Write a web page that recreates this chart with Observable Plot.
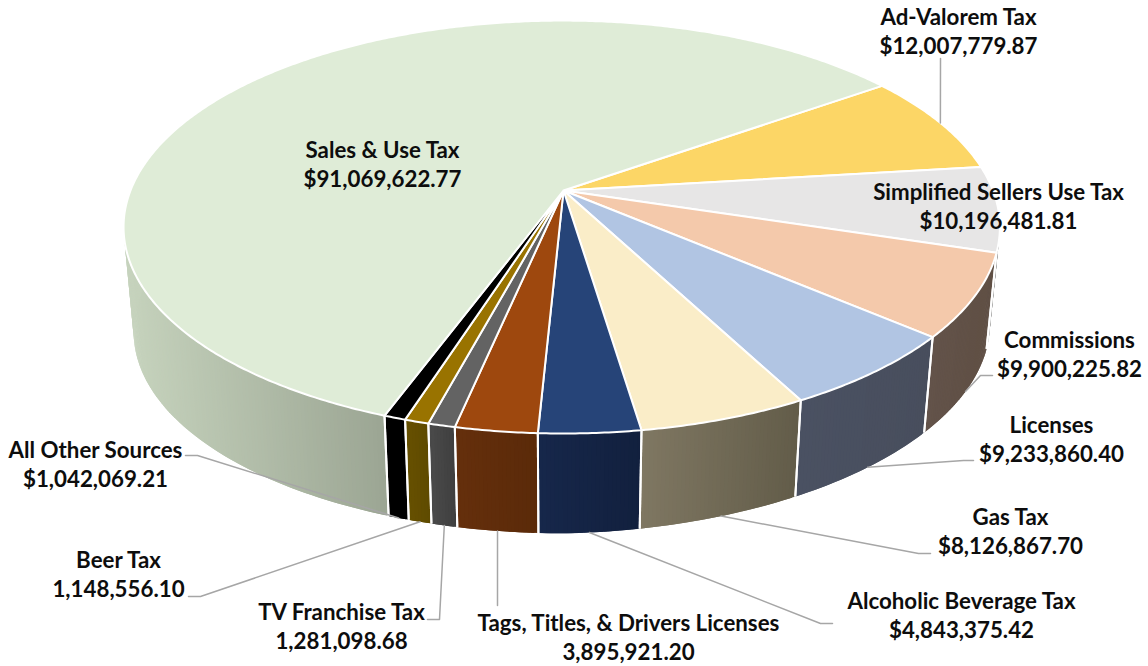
<!DOCTYPE html>
<html><head><meta charset="utf-8">
<style>html,body{margin:0;padding:0;background:#fff}svg{display:block}</style>
<script src="https://cdn.jsdelivr.net/npm/d3@7"></script>
<script src="https://cdn.jsdelivr.net/npm/@observablehq/plot@0.6"></script>
</head><body><div id="chart"></div>
<script>
// ---- data, clockwise from the back right
const categories = ["Ad-Valorem Tax","Simplified Sellers Use Tax","Commissions","Licenses","Gas Tax","Alcoholic Beverage Tax","Tags, Titles, & Drivers Licenses","TV Franchise Tax","Beer Tax","All Other Sources","Sales & Use Tax"];
const values = [12007779.87,10196481.81,9900225.82,9233860.40,8126867.70,4843375.42,3895921.20,1281098.68,1148556.10,1042069.21,91069622.77];
const hasDollar = [true,true,true,true,true,true,false,false,false,true,true];
// ---- colours
const topColors = ["#FCD666","#E7E6E6","#F4C9AB","#B1C5E3","#FAEDC8","#264478","#9E480E","#636363","#997300","#000000","#DFECD7"];
const wallLeftColors = ["#8C7A45","#8A8A88","#63534A","#4A5162","#7F7762","#16274A","#652F0C","#4A4A4A","#665000","#000000","#C6D3BD"];
const wallRightColors = ["#7A6A3C","#7A7A78","#5F4F44","#484E5D","#625C49","#12203E","#5A2A09","#3E3E3E","#5E4A00","#000000","#9BA593"];
// ---- label placement (chart units)
const labelX = [958,998,1069,1051,1010,961,628,341,118,95,382];
const labelY = [29.5,204.5,352.5,437.5,529.5,613.5,635.5,624.5,572.5,462.5,162.5];
const leaderX = [[940],null,[980,992],[963,973],[918,930],[820,832],[497],[439,427],[200,188],[197,185],null];
const leaderY = [[58],null,[375,375],[460,460],[553,553],[623,623],[605],[619,619],[596,596],[455,455],null];

// ---- pie geometry: a unit circle seen in perspective
const apexX = 563, apexY = 190, rxLeft = 433, rxRight = 429.5, ry = 200, persp = -0.177, firstAngle = -35.2;
const project = (deg) => {
  const t = deg * Math.PI / 180, u = Math.cos(t), v = Math.sin(t), w = 1 + persp * v;
  return [apexX + (u < 0 ? rxLeft : rxRight) * u / w, apexY + ry * v / w];
};
const lower = ([x, y]) => {
  const right = Math.max(0, (x - apexX) / rxRight);
  return [apexX + (x - apexX) * 0.977, 331 + (y - 226) * 0.975 - 8 * right];
};

const total = d3.sum(values);
const cum = d3.cumsum(values);
const slices = categories.map((name, i) => ({
  i, name,
  a0: firstAngle + 360 * (i ? cum[i - 1] : 0) / total,
  a1: firstAngle + 360 * cum[i] / total
}));
const arcAngles = (s) => {
  const n = Math.ceil(s.a1 - s.a0) * 2 + 1;
  return d3.range(n + 1).map((j) => s.a0 + (s.a1 - s.a0) * j / n);
};

// top faces
const topPts = slices.flatMap((s) => {
  const pts = [[apexX, apexY], ...arcAngles(s).map(project), [apexX, apexY]];
  return pts.map(([x, y]) => ({id: s.i, x, y, fill: topColors[s.i]}));
});
// wall strips, shaded across the visible width of each slice; each strip overlaps the next
const wallPts = slices.flatMap((s) => {
  const as = arcAngles(s);
  const vis = as.filter((a) => Math.sin(a * Math.PI / 180) > 0.1).map((a) => project(a)[0]);
  const xmin = vis.length ? d3.min(vis) : 0, xmax = vis.length ? d3.max(vis) : 1;
  const col = d3.interpolateRgb(wallLeftColors[s.i], wallRightColors[s.i]);
  return as.slice(0, -1).flatMap((a, j) => {
    const p = project(a), q = project(as[Math.min(j + 2, as.length - 1)]);
    const t = Math.max(0, Math.min(1, ((p[0] + q[0]) / 2 - xmin) / (xmax - xmin || 1)));
    const fill = col(t);
    return [p, q, lower(q), lower(p), p].map(([x, y]) => ({id: s.i + "-" + j, x, y, fill}));
  });
});
// white seams between wall pieces
const seams = slices.flatMap((s) => [s.a0, s.a1]).filter((a) => Math.sin(a * Math.PI / 180) > 0.2).map((a) => {
  const p = project(a), q = lower(p);
  return {x1: p[0], y1: p[1], x2: q[0], y2: q[1]};
});
// leaders start at the middle of each slice's rim
const leaders = slices.flatMap((s) => {
  if (!leaderX[s.i]) return [];
  const m = project((s.a0 + s.a1) / 2);
  const start = s.i === 0 ? m : lower(m);
  return [start, ...leaderX[s.i].map((x, k) => [x, leaderY[s.i][k]])].map(([x, y]) => ({id: s.i, x, y}));
});
const fmt = d3.format(",.2f");
const labels = categories.map((name, i) => ({
  x: labelX[i], y: labelY[i],
  text: name + "\n" + (hasDollar[i] ? "$" : "") + fmt(values[i])
}));

const solid = {x: "x", y: "y", z: "id", curve: "linear"};
const chart = Plot.plot({
  width: 1148, height: 666, margin: 0,
  x: {domain: [0, 1148], range: [0, 1148], axis: null},
  y: {domain: [0, 666], range: [0, 666], axis: null},
  marks: [
    Plot.line(wallPts, {...solid, fill: {value: "fill", scale: null}, stroke: "none"}),
    Plot.link(seams, {x1: "x1", y1: "y1", x2: "x2", y2: "y2", stroke: "#fff", strokeWidth: 2}),
    Plot.line(topPts, {...solid, fill: {value: "fill", scale: null}, stroke: "#fff", strokeWidth: 2, strokeLinejoin: "round"}),
    Plot.line(leaders, {...solid, stroke: "#A6A6A6", strokeWidth: 1.5}),
    Plot.text(labels, {x: "x", y: "y", text: "text", fontFamily: "Lato", fontWeight: "bold", fontSize: 22.3, lineHeight: 1.33, lineAnchor: "middle", fill: "#0d0d0d"})
  ]
});
document.getElementById("chart").appendChild(chart);
</script></body></html>
